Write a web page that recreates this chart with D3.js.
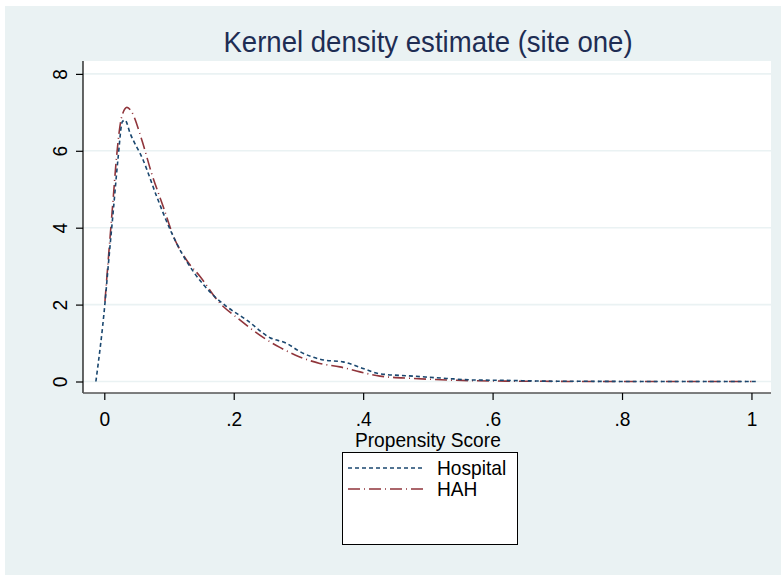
<!DOCTYPE html>
<html>
<head>
<meta charset="utf-8">
<script src="https://cdn.jsdelivr.net/npm/d3@7"></script>
<style>
  html, body { margin: 0; padding: 0; background: #ffffff; }
  svg { display: block; font-family: "Liberation Sans", Arial, sans-serif; }
</style>
</head>
<body>
<svg id="chart" width="781" height="576"></svg>
<script>
// ---- data ----
const hospitalX = [-0.013, 0.001, 0.006, 0.014, 0.021, 0.028, 0.032, 0.040, 0.060, 0.081, 0.102, 0.117, 0.138, 0.168, 0.189, 0.220, 0.256, 0.282, 0.302, 0.339, 0.369, 0.400, 0.426, 0.477, 0.529, 0.570, 0.62, 0.68, 0.75, 0.85, 0.95, 1.009];
const hospitalY = [0, 2.03, 2.99, 4.46, 5.76, 6.76, 6.80, 6.45, 5.76, 4.81, 3.94, 3.42, 2.85, 2.25, 1.95, 1.60, 1.14, 0.99, 0.78, 0.56, 0.51, 0.34, 0.20, 0.14, 0.08, 0.04, 0.03, 0.01, 0.005, 0, 0, 0];
const hahX = [0.001, 0.009, 0.014, 0.019, 0.027, 0.035, 0.042, 0.058, 0.073, 0.091, 0.107, 0.127, 0.148, 0.179, 0.205, 0.246, 0.272, 0.302, 0.333, 0.364, 0.395, 0.426, 0.478, 0.529, 0.570, 0.62, 0.68, 0.75, 0.85, 0.95, 1.0];
const hahY = [2.08, 3.77, 4.81, 5.85, 6.89, 7.13, 7.02, 6.28, 5.42, 4.55, 3.77, 3.16, 2.73, 2.03, 1.66, 1.14, 0.88, 0.64, 0.47, 0.38, 0.25, 0.14, 0.08, 0.04, 0.02, 0.01, 0.005, 0, 0, 0, 0];
const xTicks = [0, 0.2, 0.4, 0.6, 0.8, 1];
const xTickLabels = ["0", ".2", ".4", ".6", ".8", "1"];
const yTicks = [0, 2, 4, 6, 8];
const yTickLabels = ["0", "2", "4", "6", "8"];
const seriesNames = ["Hospital", "HAH"];
const titleText = "Kernel density estimate (site one)";
const xTitle = "Propensity Score";

// ---- layout ----
const svg = d3.select("#chart");
const plot = { left: 83, right: 771, top: 61, bottom: 393 };
const x = d3.scaleLinear().domain([-0.0329, 1.0302]).range([plot.left, plot.right]);
const y = d3.scaleLinear().domain([-0.299, 8.335]).range([plot.bottom, plot.top]);

const bg = "#EAF2F3";
const navy = "#1A476F";
const maroon = "#90353B";
const labelSize = 20.5;
const squeeze = 0.935;

svg.append("rect").attr("x", 5).attr("y", 6).attr("width", 776).attr("height", 569).attr("fill", bg);
svg.append("rect").attr("x", plot.left).attr("y", plot.top)
  .attr("width", plot.right - plot.left).attr("height", plot.bottom - plot.top).attr("fill", "#ffffff");

// gridlines
svg.append("g").selectAll("line").data(yTicks).join("line")
  .attr("x1", plot.left).attr("x2", plot.right)
  .attr("y1", d => y(d)).attr("y2", d => y(d))
  .attr("stroke", bg).attr("stroke-width", 1.6);

// series
const line = d3.line().x(d => x(d[0])).y(d => y(d[1])).curve(d3.curveMonotoneX);
const hospData = hospitalX.map((v, i) => [v, hospitalY[i]]);
const hahData = hahX.map((v, i) => [v, hahY[i]]);

svg.append("path").datum(hahData).attr("d", line)
  .attr("fill", "none").attr("stroke", maroon).attr("stroke-width", 1.6)
  .attr("stroke-dasharray", "12,4,1,4");
svg.append("path").datum(hospData).attr("d", line)
  .attr("fill", "none").attr("stroke", navy).attr("stroke-width", 1.6)
  .attr("stroke-dasharray", "4,3");

// axes
const yAxis = d3.axisLeft(y).tickValues(yTicks).tickFormat((d, i) => yTickLabels[i]).tickSize(7).tickSizeOuter(0);
const gy = svg.append("g").attr("transform", `translate(${plot.left},0)`).call(yAxis);
gy.select(".domain").attr("d", `M0,${plot.top}V${plot.bottom}`).attr("stroke", "#000").attr("stroke-width", 1.2);
gy.selectAll(".tick line").attr("stroke", "#000").attr("stroke-width", 1.2);
gy.selectAll(".tick text")
  .attr("font-size", labelSize).attr("fill", "#000")
  .attr("transform", `rotate(-90) scale(${squeeze},1)`)
  .attr("x", 0).attr("y", -16).attr("dy", 0)
  .attr("text-anchor", "middle");

const xAxis = d3.axisBottom(x).tickValues(xTicks).tickFormat((d, i) => xTickLabels[i]).tickSize(7).tickSizeOuter(0);
const gx = svg.append("g").attr("transform", `translate(0,${plot.bottom})`).call(xAxis);
gx.select(".domain").attr("d", `M${plot.left},0H${plot.right}`).attr("stroke", "#555").attr("stroke-width", 1.6);
gx.selectAll(".tick line").attr("stroke", "#000").attr("stroke-width", 1.2);
gx.selectAll(".tick text").attr("font-size", labelSize).attr("fill", "#000")
  .attr("transform", `scale(${squeeze},1)`)
  .attr("y", 33).attr("dy", 0);

// axis title
svg.append("text").attr("transform", `translate(${(x(0) + x(1)) / 2},447) scale(${squeeze},1)`)
  .attr("text-anchor", "middle").attr("font-size", labelSize).attr("fill", "#000").text(xTitle);

// title
svg.append("text").attr("transform", `translate(428,52) scale(${squeeze},1)`)
  .attr("text-anchor", "middle").attr("font-size", 29.5).attr("fill", "#1E2D53").text(titleText);

// legend
const lg = svg.append("g");
lg.append("rect").attr("x", 342.5).attr("y", 452.5).attr("width", 175).attr("height", 92)
  .attr("fill", "#fff").attr("stroke", "#000").attr("stroke-width", 1);
const legendItems = [
  { name: seriesNames[0], color: navy, dash: "4,3", y: 468 },
  { name: seriesNames[1], color: maroon, dash: "12,4,1,4", y: 489 }
];
legendItems.forEach(it => {
  lg.append("line").attr("x1", 348).attr("x2", 423).attr("y1", it.y).attr("y2", it.y)
    .attr("stroke", it.color).attr("stroke-width", 1.6).attr("stroke-dasharray", it.dash);
  lg.append("text").attr("transform", `translate(437,${it.y}) scale(${squeeze},1)`).attr("dy", "0.36em")
    .attr("font-size", labelSize).attr("fill", "#000").text(it.name);
});
</script>
</body>
</html>
